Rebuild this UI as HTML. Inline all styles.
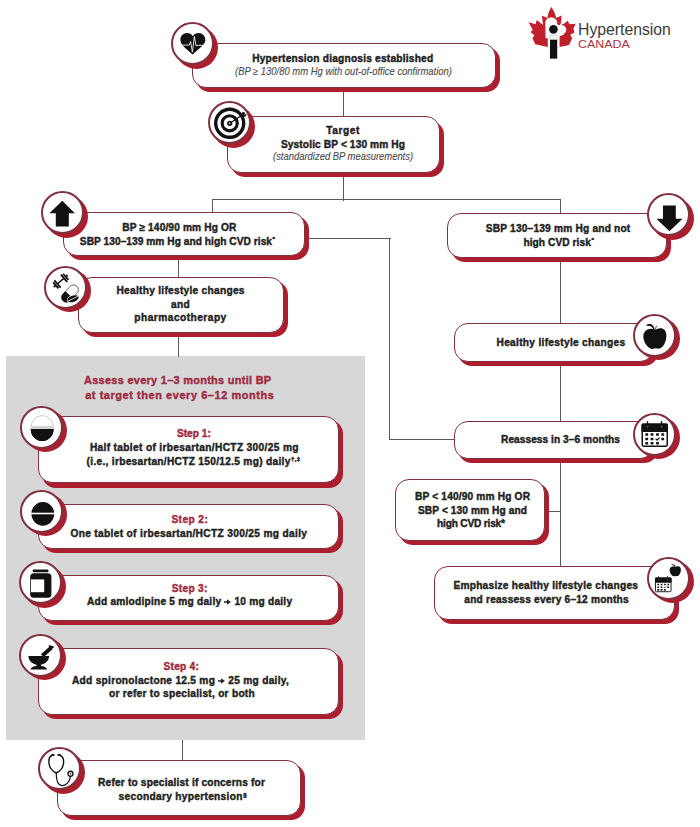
<!DOCTYPE html>
<html><head><meta charset="utf-8"><style>
html,body{margin:0;padding:0;background:#fff;}
body{width:700px;height:827px;position:relative;overflow:hidden;font-family:"Liberation Sans",sans-serif;}
.a{position:absolute;}
.ln{position:absolute;background:#5a5a5a;}
.sh{position:absolute;background:#ac1e2d;border-radius:14px;}
.bx{position:absolute;background:#fff;border:1.5px solid #80303e;border-radius:14px;box-sizing:border-box;}
.csh{position:absolute;background:#ac1e2d;border-radius:50%;}
.cr{position:absolute;background:#fff;border:2px solid #80303e;border-radius:50%;box-sizing:border-box;}
.t{position:absolute;white-space:nowrap;line-height:20px;transform-origin:0 0;-webkit-text-stroke:0.4px currentColor;}
.sp{font-size:0.6em;position:relative;top:-0.6em;margin-left:0.5px;}
svg{position:absolute;overflow:visible;}
svg.ia{position:static;vertical-align:0;-webkit-text-stroke:0;}
.it{-webkit-text-stroke:0.1px currentColor;}
</style></head><body>

<div class="a" style="left:6px;top:356px;width:359px;height:383.7px;background:#d7d7d7"></div>
<div class="ln" style="left:342.50px;top:91.00px;width:1.20px;height:26.00px"></div>
<div class="ln" style="left:342.50px;top:176.00px;width:1.20px;height:24.50px"></div>
<div class="ln" style="left:211.50px;top:199.30px;width:349.50px;height:1.20px"></div>
<div class="ln" style="left:211.50px;top:199.30px;width:1.20px;height:13.20px"></div>
<div class="ln" style="left:559.80px;top:199.30px;width:1.20px;height:14.70px"></div>
<div class="ln" style="left:178.30px;top:260.00px;width:1.20px;height:17.50px"></div>
<div class="ln" style="left:178.30px;top:336.00px;width:1.20px;height:20.50px"></div>
<div class="ln" style="left:181.50px;top:739.50px;width:1.20px;height:21.00px"></div>
<div class="ln" style="left:309.00px;top:237.70px;width:81.50px;height:1.20px"></div>
<div class="ln" style="left:389.30px;top:237.70px;width:1.20px;height:202.60px"></div>
<div class="ln" style="left:389.30px;top:439.10px;width:65.20px;height:1.20px"></div>
<div class="ln" style="left:559.80px;top:261.00px;width:1.20px;height:62.50px"></div>
<div class="ln" style="left:559.80px;top:365.00px;width:1.20px;height:56.50px"></div>
<div class="ln" style="left:559.80px;top:463.00px;width:1.20px;height:103.50px"></div>
<div class="ln" style="left:548.50px;top:511.00px;width:11.90px;height:1.20px"></div>
<div class="sh" style="left:196.00px;top:47.30px;width:303.70px;height:44.40px"></div>
<div class="bx" style="left:192.00px;top:43.20px;width:303.70px;height:44.40px"></div>
<div class="sh" style="left:231.30px;top:120.50px;width:212.70px;height:56.20px"></div>
<div class="bx" style="left:227.30px;top:116.40px;width:212.70px;height:56.20px"></div>
<div class="sh" style="left:67.30px;top:215.90px;width:241.80px;height:44.60px"></div>
<div class="bx" style="left:63.30px;top:211.80px;width:241.80px;height:44.60px"></div>
<div class="sh" style="left:450.70px;top:217.40px;width:220.80px;height:44.60px"></div>
<div class="bx" style="left:446.70px;top:213.30px;width:220.80px;height:44.60px"></div>
<div class="sh" style="left:82.30px;top:280.80px;width:206.00px;height:55.90px"></div>
<div class="bx" style="left:78.30px;top:276.70px;width:206.00px;height:55.90px"></div>
<div class="sh" style="left:458.30px;top:326.80px;width:199.70px;height:38.90px"></div>
<div class="bx" style="left:454.30px;top:322.70px;width:199.70px;height:38.90px"></div>
<div class="sh" style="left:457.90px;top:424.90px;width:200.10px;height:38.60px"></div>
<div class="bx" style="left:453.90px;top:420.80px;width:200.10px;height:38.60px"></div>
<div class="sh" style="left:399.30px;top:482.90px;width:150.00px;height:61.80px"></div>
<div class="bx" style="left:395.30px;top:478.80px;width:150.00px;height:61.80px"></div>
<div class="sh" style="left:437.60px;top:569.80px;width:241.40px;height:54.50px"></div>
<div class="bx" style="left:433.60px;top:565.70px;width:241.40px;height:54.50px"></div>
<div class="sh" style="left:42.10px;top:420.30px;width:301.10px;height:67.30px"></div>
<div class="bx" style="left:38.10px;top:416.20px;width:301.10px;height:67.30px"></div>
<div class="sh" style="left:42.10px;top:507.90px;width:301.10px;height:45.60px"></div>
<div class="bx" style="left:38.10px;top:503.80px;width:301.10px;height:45.60px"></div>
<div class="sh" style="left:42.10px;top:579.10px;width:301.10px;height:45.50px"></div>
<div class="bx" style="left:38.10px;top:575.00px;width:301.10px;height:45.50px"></div>
<div class="sh" style="left:42.10px;top:651.80px;width:301.10px;height:66.90px"></div>
<div class="bx" style="left:38.10px;top:647.70px;width:301.10px;height:66.90px"></div>
<div class="sh" style="left:61.20px;top:763.90px;width:243.50px;height:56.60px"></div>
<div class="bx" style="left:57.20px;top:759.80px;width:243.50px;height:56.60px"></div>
<div class="csh" style="left:174.50px;top:25.70px;width:43.00px;height:43.00px"></div>
<div class="cr" style="left:170.50px;top:22.20px;width:43.00px;height:43.00px"></div>
<div class="csh" style="left:211.50px;top:104.50px;width:43.00px;height:43.00px"></div>
<div class="cr" style="left:207.50px;top:101.00px;width:43.00px;height:43.00px"></div>
<svg style="left:208.00px;top:101.50px" width="42" height="42" viewBox="-21 -21 42 42"><g transform="translate(0.7 0.3)"><circle r="14" fill="none" stroke="#111" stroke-width="3.4"/><circle r="7.55" fill="none" stroke="#111" stroke-width="3.1"/><circle r="2.6" fill="#111"/><circle r="1" fill="#fff"/><line x1="0" y1="0" x2="13" y2="-8.5" stroke="#111" stroke-width="1.3"/><path fill="#111" d="M10.5 -7.2 L13 -11.5 L15.5 -10.5 L14.5 -8.5 L17 -9.5 L16 -7 L13.5 -6 Z"/></g></svg>
<div class="csh" style="left:44.60px;top:194.90px;width:43.00px;height:43.00px"></div>
<div class="cr" style="left:40.60px;top:191.40px;width:43.00px;height:43.00px"></div>
<svg style="left:41.10px;top:191.90px" width="42" height="42" viewBox="-21 -21 42 42"><path fill="#111" d="M0.3 -12.3 L12.9 0.3 L6.8 0.3 L6.8 13.5 L-6.2 13.5 L-6.2 0.3 L-12.6 0.3 Z"/></svg>
<div class="csh" style="left:651.00px;top:196.60px;width:43.00px;height:43.00px"></div>
<div class="cr" style="left:647.00px;top:193.10px;width:43.00px;height:43.00px"></div>
<svg style="left:647.50px;top:193.60px" width="42" height="42" viewBox="-21 -21 42 42"><path fill="#111" d="M0.5 16.2 L13.5 3.8 L6.8 3.8 L6.8 -9.5 L-6 -9.5 L-6 3.8 L-12.6 3.8 Z"/></svg>
<div class="csh" style="left:47.70px;top:269.00px;width:43.00px;height:43.00px"></div>
<div class="cr" style="left:43.70px;top:265.50px;width:43.00px;height:43.00px"></div>
<div class="csh" style="left:636.50px;top:317.40px;width:43.00px;height:43.00px"></div>
<div class="cr" style="left:632.50px;top:313.90px;width:43.00px;height:43.00px"></div>
<div class="csh" style="left:636.50px;top:416.00px;width:43.00px;height:43.00px"></div>
<div class="cr" style="left:632.50px;top:412.50px;width:43.00px;height:43.00px"></div>
<div class="csh" style="left:651.10px;top:560.40px;width:43.00px;height:43.00px"></div>
<div class="cr" style="left:647.10px;top:556.90px;width:43.00px;height:43.00px"></div>
<div class="csh" style="left:23.90px;top:409.00px;width:43.00px;height:43.00px"></div>
<div class="cr" style="left:19.90px;top:405.50px;width:43.00px;height:43.00px"></div>
<svg style="left:20.40px;top:406.00px" width="42" height="42" viewBox="-21 -21 42 42"><g transform="translate(1.2 0.6)"><ellipse rx="11.2" ry="12" fill="#fff" stroke="#aaa" stroke-width="0.6"/><path d="M-11.4 1.3 L11.4 1.3 A11.4 12.2 0 0 1 -11.4 1.3 Z" fill="#111"/><path d="M-11.4 1.3 L11.4 1.3 A11.4 12.2 0 0 1 -11.4 1.3 Z" fill="#111"/><rect x="-11.3" y="-1.6" width="22.6" height="2.9" fill="#d4d4d4"/></g></svg>
<div class="csh" style="left:24.30px;top:493.40px;width:43.00px;height:43.00px"></div>
<div class="cr" style="left:20.30px;top:489.90px;width:43.00px;height:43.00px"></div>
<svg style="left:20.80px;top:490.40px" width="42" height="42" viewBox="-21 -21 42 42"><g transform="translate(0.8 2.8)"><ellipse rx="11.4" ry="11.9" fill="#111"/><rect x="-12" y="-1.1" width="24" height="1.6" fill="#fff"/></g></svg>
<div class="csh" style="left:22.50px;top:564.50px;width:43.00px;height:43.00px"></div>
<div class="cr" style="left:18.50px;top:561.00px;width:43.00px;height:43.00px"></div>
<svg style="left:19.00px;top:561.50px" width="42" height="42" viewBox="-21 -21 42 42"><rect x="-7.2" y="-13.6" width="15.6" height="2.8" rx="0.8" fill="#111"/><rect x="-9.8" y="-9.8" width="21.2" height="24.6" rx="3.5" fill="#111"/><rect x="-9" y="-3.6" width="13.2" height="12.8" fill="#fff"/></svg>
<div class="csh" style="left:22.50px;top:637.40px;width:43.00px;height:43.00px"></div>
<div class="cr" style="left:18.50px;top:633.90px;width:43.00px;height:43.00px"></div>
<div class="csh" style="left:42.00px;top:750.80px;width:43.00px;height:43.00px"></div>
<div class="cr" style="left:38.00px;top:747.30px;width:43.00px;height:43.00px"></div>
<svg style="left:175.00px;top:27.00px" width="35" height="35" viewBox="0 0 700 700"><path fill="#111" d="M355 185 C330 140 290 122 240 122 C160 122 108 185 108 260 C108 330 160 385 220 435 L350 552 L480 435 C545 378 607 330 607 260 C607 185 552 122 475 122 C425 122 380 140 355 185 Z"/><polyline fill="none" stroke="#fff" stroke-width="17" stroke-linejoin="round" points="90,362 286,362 312,292 348,502 388,188 422,382 440,366 630,366"/></svg>
<svg style="left:48.00px;top:270.00px" width="35" height="35" viewBox="0 0 700 700"><g transform="translate(255 222) rotate(-41)"><rect x="-75" y="-14" width="150" height="28" fill="#111"/><rect x="-105" y="-95" width="36" height="190" fill="#111"/><rect x="69" y="-95" width="36" height="190" fill="#111"/><rect x="-150" y="-80" width="36" height="160" fill="#111"/><rect x="114" y="-80" width="36" height="160" fill="#111"/><rect x="-180" y="-22" width="32" height="44" fill="#111"/><rect x="148" y="-22" width="32" height="44" fill="#111"/></g><g transform="translate(440 470) rotate(43)"><rect x="-95" y="-200" width="190" height="400" rx="95" fill="#fff" stroke="#111" stroke-width="12"/><path d="M-101 30 L101 30 L101 105 A101 101 0 0 1 -101 105 Z" fill="#111"/></g><g transform="translate(500 575) rotate(-20)"><ellipse rx="130" ry="72" fill="#fff"/><ellipse rx="118" ry="62" fill="#111"/><line x1="-110" y1="12" x2="110" y2="-12" stroke="#fff" stroke-width="14"/></g></svg>
<svg style="left:638.00px;top:320.00px" width="35" height="35" viewBox="0 0 700 700"><path fill="#111" d="M340 192 C300 170 240 168 190 190 C120 222 104 290 108 350 C118 452 190 562 280 578 C320 583 340 567 360 567 C390 572 420 582 462 557 C532 502 572 402 567 290 C562 208 510 160 440 165 C400 170 370 185 340 192 Z"/><path fill="#111" d="M160 108 C200 70 275 75 305 118 C320 140 330 165 335 188 L305 190 C295 155 270 128 240 122 C210 116 185 112 160 108 Z"/><path fill="none" stroke="#111" stroke-width="16" d="M338 180 L378 118"/></svg>
<svg style="left:637.00px;top:417.00px" width="35" height="35" viewBox="0 0 700 700"><rect x="105" y="145" width="500" height="440" rx="28" fill="#fff" stroke="#111" stroke-width="30"/><path d="M90 158 A28 28 0 0 1 118 130 L592 130 A28 28 0 0 1 620 158 L620 300 L90 300 Z" fill="#111"/><rect x="197" y="80" width="26" height="120" rx="10" fill="#111"/><path d="M192 185 Q210 215 228 185" stroke="#fff" stroke-width="10" fill="none"/><rect x="477" y="80" width="26" height="120" rx="10" fill="#111"/><path d="M472 185 Q490 215 508 185" stroke="#fff" stroke-width="10" fill="none"/><rect x="167" y="325" width="56" height="50" rx="6" fill="#111"/><rect x="272" y="325" width="56" height="50" rx="6" fill="#111"/><rect x="382" y="325" width="56" height="50" rx="6" fill="#111"/><rect x="487" y="325" width="56" height="50" rx="6" fill="#111"/><rect x="167" y="415" width="56" height="50" rx="6" fill="#111"/><rect x="272" y="415" width="56" height="50" rx="6" fill="#111"/><rect x="487" y="415" width="56" height="50" rx="6" fill="#111"/><rect x="167" y="500" width="56" height="50" rx="6" fill="#111"/><rect x="272" y="500" width="56" height="50" rx="6" fill="#111"/><rect x="382" y="500" width="56" height="50" rx="6" fill="#111"/><polyline points="372,432 402,462 452,412" fill="none" stroke="#111" stroke-width="24"/></svg>
<svg style="left:24.00px;top:638.00px" width="35" height="35" viewBox="0 0 700 700"><path fill="#111" d="M88 362 L502 362 C498 470 405 542 295 542 C185 542 92 470 88 362 Z"/><rect x="250" y="520" width="90" height="45" fill="#111"/><path fill="#111" d="M128 628 C148 572 220 555 295 555 C370 555 442 572 462 628 Z"/><path fill="none" stroke="#111" stroke-width="78" stroke-linecap="butt" d="M365 355 L545 195"/><path fill="#111" d="M495 140 L600 170 L590 195 L545 230 L500 190 Z"/></svg>
<svg style="left:42.00px;top:751.00px" width="35" height="35" viewBox="0 0 700 700"><path fill="none" stroke="#111" stroke-width="28" stroke-linecap="round" d="M195 90 C150 110 130 160 140 250 C150 340 200 400 285 440 C370 400 420 340 430 250 C440 160 420 110 365 90"/><ellipse cx="218" cy="80" rx="38" ry="22" fill="#111"/><ellipse cx="342" cy="80" rx="38" ry="22" fill="#111"/><path fill="none" stroke="#111" stroke-width="24" d="M285 430 C285 520 285 610 340 665 C400 720 500 680 540 600 C555 570 565 540 565 505"/><circle cx="570" cy="455" r="50" fill="#fff" stroke="#111" stroke-width="26"/><circle cx="570" cy="455" r="16" fill="#111"/></svg>
<svg style="left:655.25px;top:576px" width="16.5" height="16.5" viewBox="90 80 530 530"><rect x="105" y="145" width="500" height="440" rx="28" fill="#fff" stroke="#111" stroke-width="30"/><path d="M90 158 A28 28 0 0 1 118 130 L592 130 A28 28 0 0 1 620 158 L620 300 L90 300 Z" fill="#111"/><rect x="197" y="80" width="26" height="120" rx="10" fill="#111"/><path d="M192 185 Q210 215 228 185" stroke="#fff" stroke-width="10" fill="none"/><rect x="477" y="80" width="26" height="120" rx="10" fill="#111"/><path d="M472 185 Q490 215 508 185" stroke="#fff" stroke-width="10" fill="none"/><rect x="167" y="325" width="56" height="50" rx="6" fill="#111"/><rect x="272" y="325" width="56" height="50" rx="6" fill="#111"/><rect x="382" y="325" width="56" height="50" rx="6" fill="#111"/><rect x="487" y="325" width="56" height="50" rx="6" fill="#111"/><rect x="167" y="415" width="56" height="50" rx="6" fill="#111"/><rect x="272" y="415" width="56" height="50" rx="6" fill="#111"/><rect x="487" y="415" width="56" height="50" rx="6" fill="#111"/><rect x="167" y="500" width="56" height="50" rx="6" fill="#111"/><rect x="272" y="500" width="56" height="50" rx="6" fill="#111"/><rect x="382" y="500" width="56" height="50" rx="6" fill="#111"/><polyline points="372,432 402,462 452,412" fill="none" stroke="#111" stroke-width="24"/></svg>
<svg style="left:669.25px;top:564px" width="12.5" height="12.5" viewBox="100 75 475 510"><path fill="#111" d="M340 192 C300 170 240 168 190 190 C120 222 104 290 108 350 C118 452 190 562 280 578 C320 583 340 567 360 567 C390 572 420 582 462 557 C532 502 572 402 567 290 C562 208 510 160 440 165 C400 170 370 185 340 192 Z"/><path fill="#111" d="M160 108 C200 70 275 75 305 118 C320 140 330 165 335 188 L305 190 C295 155 270 128 240 122 C210 116 185 112 160 108 Z"/><path fill="none" stroke="#111" stroke-width="16" d="M338 180 L378 118"/></svg>
<div class="t" id="b1a" style="left:252.20px;top:49.47px;font-size:10.19px;font-weight:bold;font-style:normal;color:#222222;letter-spacing:0.209px">Hypertension diagnosis established</div>
<div class="t it" id="b1b" style="left:234.50px;top:61.93px;font-size:10.30px;font-weight:normal;font-style:italic;color:#4a4a4a;transform:scaleX(0.9177)">(BP ≥ 130/80 mm Hg with out-of-office confirmation)</div>
<div class="t" id="b2a" style="left:326.35px;top:120.87px;font-size:10.19px;font-weight:bold;font-style:normal;color:#222222;letter-spacing:0.551px">Target</div>
<div class="t" id="b2b" style="left:280.95px;top:134.87px;font-size:10.19px;font-weight:bold;font-style:normal;color:#222222;letter-spacing:0.111px">Systolic BP &lt; 130 mm Hg</div>
<div class="t it" id="b2c" style="left:272.55px;top:147.33px;font-size:10.30px;font-weight:normal;font-style:italic;color:#4a4a4a;transform:scaleX(0.9157)">(standardized BP measurements)</div>
<div class="t" id="b3a" style="left:122.25px;top:218.07px;font-size:10.19px;font-weight:bold;font-style:normal;color:#222222;letter-spacing:0.127px">BP ≥ 140/90 mm Hg OR</div>
<div class="t" id="b3b" style="left:79.85px;top:231.87px;font-size:10.19px;font-weight:bold;font-style:normal;color:#222222;letter-spacing:0.038px">SBP 130–139 mm Hg and high CVD risk<span class="sp">*</span></div>
<div class="t" id="b4a" style="left:485.75px;top:218.67px;font-size:10.19px;font-weight:bold;font-style:normal;color:#222222;letter-spacing:0.187px">SBP 130–139 mm Hg and not</div>
<div class="t" id="b4b" style="left:523.40px;top:232.77px;font-size:10.19px;font-weight:bold;font-style:normal;color:#222222;letter-spacing:0.062px">high CVD risk<span class="sp">*</span></div>
<div class="t" id="b5a" style="left:116.50px;top:281.17px;font-size:10.19px;font-weight:bold;font-style:normal;color:#222222;letter-spacing:0.269px">Healthy lifestyle changes</div>
<div class="t" id="b5b" style="left:170.95px;top:294.67px;font-size:10.19px;font-weight:bold;font-style:normal;color:#222222;letter-spacing:0.303px">and</div>
<div class="t" id="b5c" style="left:134.35px;top:308.17px;font-size:10.19px;font-weight:bold;font-style:normal;color:#222222;letter-spacing:0.467px">pharmacotherapy</div>
<div class="t" id="b6a" style="left:496.50px;top:332.57px;font-size:10.19px;font-weight:bold;font-style:normal;color:#222222;letter-spacing:0.294px">Healthy lifestyle changes</div>
<div class="t" id="b7a" style="left:501.00px;top:429.57px;font-size:10.19px;font-weight:bold;font-style:normal;color:#222222;letter-spacing:0.039px">Reassess in 3–6 months</div>
<div class="t" id="b8a" style="left:415.00px;top:486.97px;font-size:10.19px;font-weight:bold;font-style:normal;color:#222222;letter-spacing:0.155px">BP &lt; 140/90 mm Hg OR</div>
<div class="t" id="b8b" style="left:418.00px;top:500.57px;font-size:10.19px;font-weight:bold;font-style:normal;color:#222222;letter-spacing:0.082px">SBP &lt; 130 mm Hg and</div>
<div class="t" id="b8c" style="left:437.00px;top:514.27px;font-size:10.19px;font-weight:bold;font-style:normal;color:#222222;letter-spacing:-0.204px">high CVD risk*</div>
<div class="t" id="b9a" style="left:453.40px;top:576.37px;font-size:10.19px;font-weight:bold;font-style:normal;color:#222222;letter-spacing:0.241px">Emphasize healthy lifestyle changes</div>
<div class="t" id="b9b" style="left:464.35px;top:590.27px;font-size:10.19px;font-weight:bold;font-style:normal;color:#222222;letter-spacing:0.186px">and reassess every 6–12 months</div>
<div class="t" id="h1" style="left:84.05px;top:370.10px;font-size:10.96px;font-weight:bold;font-style:normal;color:#9e2b40;letter-spacing:0.281px">Assess every 1–3 months until BP</div>
<div class="t" id="h2" style="left:85.15px;top:385.10px;font-size:10.96px;font-weight:bold;font-style:normal;color:#9e2b40;letter-spacing:0.569px">at target then every 6–12 months</div>
<div class="t" id="s1a" style="left:176.95px;top:424.17px;font-size:10.19px;font-weight:bold;font-style:normal;color:#9e2b40;letter-spacing:-0.004px">Step 1:</div>
<div class="t" id="s1b" style="left:89.90px;top:437.87px;font-size:10.19px;font-weight:bold;font-style:normal;color:#222222;letter-spacing:0.334px">Half tablet of irbesartan/HCTZ 300/25 mg</div>
<div class="t" id="s1c" style="left:86.60px;top:451.77px;font-size:10.19px;font-weight:bold;font-style:normal;color:#222222;letter-spacing:0.288px">(i.e., irbesartan/HCTZ 150/12.5 mg) daily<span class="sp">†,‡</span></div>
<div class="t" id="s2a" style="left:171.40px;top:509.97px;font-size:10.19px;font-weight:bold;font-style:normal;color:#9e2b40;letter-spacing:0.413px">Step 2:</div>
<div class="t" id="s2b" style="left:70.40px;top:523.87px;font-size:10.19px;font-weight:bold;font-style:normal;color:#222222;letter-spacing:0.328px">One tablet of irbesartan/HCTZ 300/25 mg daily</div>
<div class="t" id="s3a" style="left:171.80px;top:579.27px;font-size:10.19px;font-weight:bold;font-style:normal;color:#9e2b40;letter-spacing:0.280px">Step 3:</div>
<div class="t" id="s3b" style="left:86.90px;top:592.47px;font-size:10.19px;font-weight:bold;font-style:normal;color:#222222;letter-spacing:0.223px">Add amlodipine 5 mg daily <svg class="ia" width="7" height="6" viewBox="0 0 7 6"><path d="M0 2.3H4V3.7H0Z M3 0.2 L6.9 3 L3 5.8Z" fill="currentColor"/></svg> 10 mg daily</div>
<div class="t" id="s4a" style="left:163.55px;top:656.57px;font-size:10.19px;font-weight:bold;font-style:normal;color:#9e2b40;letter-spacing:0.230px">Step 4:</div>
<div class="t" id="s4b" style="left:72.00px;top:670.57px;font-size:10.19px;font-weight:bold;font-style:normal;color:#222222;letter-spacing:0.266px">Add spironolactone 12.5 mg <svg class="ia" width="7" height="6" viewBox="0 0 7 6"><path d="M0 2.3H4V3.7H0Z M3 0.2 L6.9 3 L3 5.8Z" fill="currentColor"/></svg> 25 mg daily,</div>
<div class="t" id="s4c" style="left:109.05px;top:684.37px;font-size:10.19px;font-weight:bold;font-style:normal;color:#222222;letter-spacing:0.259px">or refer to specialist, or both</div>
<div class="t" id="sp1" style="left:98.05px;top:773.47px;font-size:10.19px;font-weight:bold;font-style:normal;color:#222222;letter-spacing:0.170px">Refer to specialist if concerns for</div>
<div class="t" id="sp2" style="left:118.60px;top:787.27px;font-size:10.19px;font-weight:bold;font-style:normal;color:#222222;letter-spacing:0.296px">secondary hypertension<span class="sp">§</span></div>
<svg style="left:525px;top:3px" width="55" height="55" viewBox="0 0 700 700">
<path fill="#c0202c" d="M335 50 L365 100 L385 145 L395 190 L465 160 L460 250 L440 285 L495 265 L545 225 L565 270 L645 265 L615 325 L630 375 L575 405 L600 450 L560 535 L440 560 L290 560 L130 525 L95 450 L120 410 L70 370 L100 345 L45 245 L135 270 L150 215 L230 280 L215 160 L285 190 L295 140 L310 100 Z"/>
<path fill="#fff" d="M262 450 L258 270 C255 210 290 185 335 185 C380 185 410 215 410 255 C408 275 420 285 440 280 C490 275 525 300 525 335 C525 385 480 420 435 425 L330 445 Z"/>
<rect x="290" y="420" width="150" height="150" fill="#fff"/>
<circle cx="362" cy="335" r="55" fill="#111"/>
<rect x="318" y="408" width="92" height="62" fill="#f4f4f4" stroke="#bbb" stroke-width="6"/>
<rect x="318" y="468" width="92" height="240" fill="#111"/>
</svg>
<div class="t" style="left:578px;top:19.66px;font-size:16px;color:#3a3a3a;-webkit-text-stroke:0;transform:scaleX(0.985)">Hypertension</div>
<div class="t" style="left:578.3px;top:33.89px;font-size:11px;color:#a83444;-webkit-text-stroke:0;transform:scaleX(1.13)">CANADA</div>

</body></html>
